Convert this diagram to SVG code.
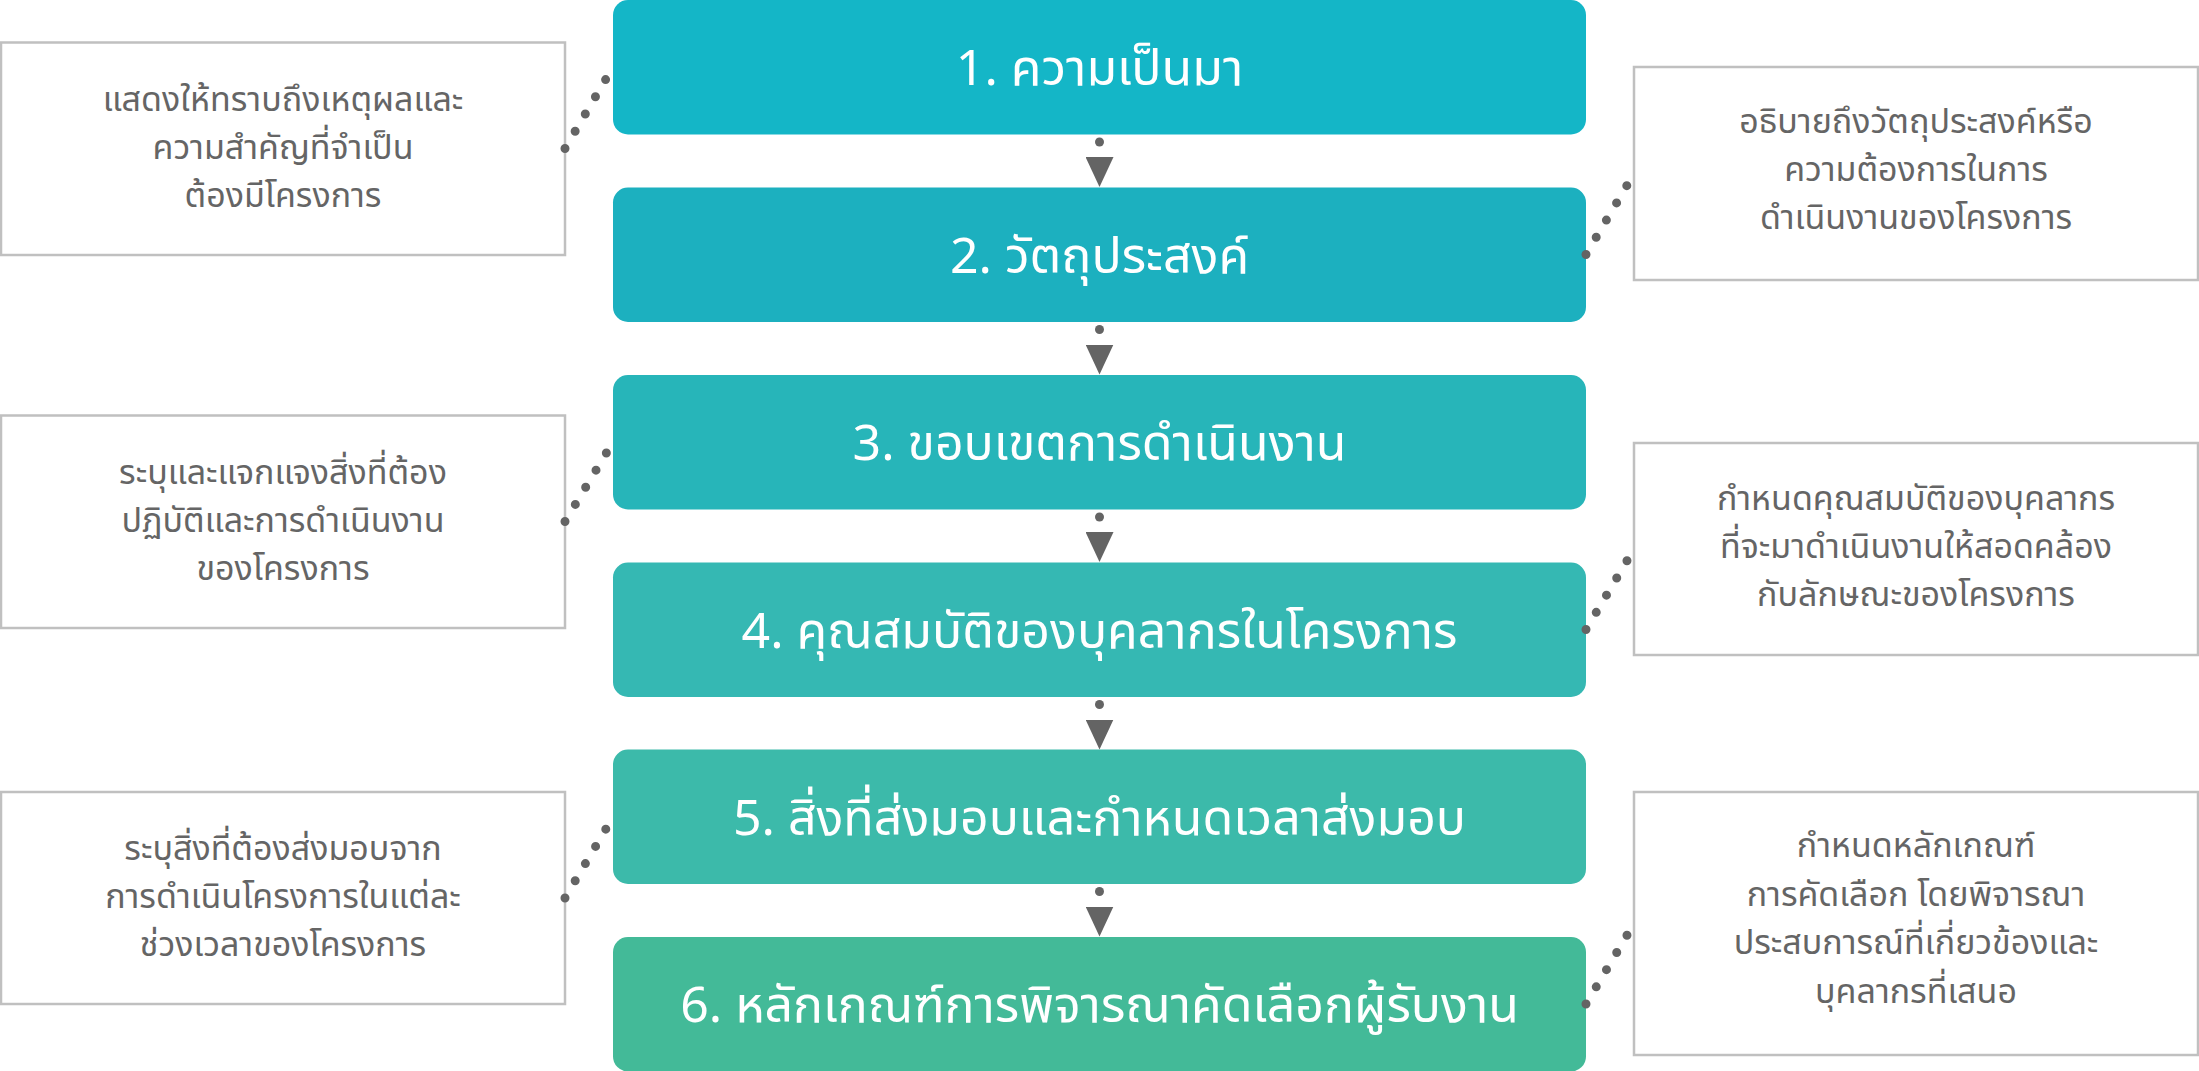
<svg xmlns="http://www.w3.org/2000/svg" width="2199" height="1071" viewBox="0 0 2199 1071">
<defs>
<style>
.node{stroke:none}
.ntext{font-family:'Noto Sans Thai','Noto Sans Thai Looped','Noto Sans',sans-serif;font-size:50px;fill:#ffffff;text-anchor:middle}
.note{fill:#ffffff;stroke:#c0c0c0;stroke-width:2.5}
.ttext{font-family:'Noto Sans Thai','Noto Sans Thai Looped','Noto Sans',sans-serif;font-size:34px;fill:#656565;text-anchor:middle}
.dots{fill:none;stroke:#646464;stroke-width:9;stroke-linecap:round;stroke-dasharray:0 20}
.flow{fill:none;stroke:#646464;stroke-width:9;stroke-linecap:round;stroke-dasharray:0 100;marker-end:url(#tri)}
</style>
<marker id="tri" viewBox="0 0 30 28" refX="0" refY="14" markerWidth="30" markerHeight="28" markerUnits="userSpaceOnUse" orient="auto">
<path d="M0,0 L30,14 L0,28 Z" fill="#646464"/>
</marker>
</defs>

<g id="node1"><rect class="node" x="613" y="0" width="973" height="134.5" rx="15" fill="#14B6C7"/><text class="ntext" x="1099.5" y="85">1. ความเป็นมา</text></g>
<g id="node2"><rect class="node" x="613" y="187.5" width="973" height="134.5" rx="15" fill="#1CB0BF"/><text class="ntext" x="1099.5" y="272.5">2. วัตถุประสงค์</text></g>
<g id="node3"><rect class="node" x="613" y="375" width="973" height="134.5" rx="15" fill="#27B5B9"/><text class="ntext" x="1099.5" y="460">3. ขอบเขตการดำเนินงาน</text></g>
<g id="node4"><rect class="node" x="613" y="562.5" width="973" height="134.5" rx="15" fill="#35B8B3"/><text class="ntext" x="1099.5" y="647.5">4. คุณสมบัติของบุคลากรในโครงการ</text></g>
<g id="node5"><rect class="node" x="613" y="749.5" width="973" height="134.5" rx="15" fill="#3CBAAA"/><text class="ntext" x="1099.5" y="834.5">5. สิ่งที่ส่งมอบและกำหนดเวลาส่งมอบ</text></g>
<g id="node6"><rect class="node" x="613" y="937" width="973" height="134.5" rx="15" fill="#43BA98"/><text class="ntext" x="1099.5" y="1022">6. หลักเกณฑ์การพิจารณาคัดเลือกผู้รับงาน</text></g>

<g id="note-left-1"><rect class="note" x="1" y="42.5" width="564" height="212.5"/>
<text class="ttext" x="283" y="111"><tspan x="283">แสดงให้ทราบถึงเหตุผลและ</tspan><tspan x="283" dy="48">ความสำคัญที่จำเป็น</tspan><tspan x="283" dy="48">ต้องมีโครงการ</tspan></text></g>
<g id="note-left-2"><rect class="note" x="1" y="415.5" width="564" height="212.5"/>
<text class="ttext" x="283" y="484"><tspan x="283">ระบุและแจกแจงสิ่งที่ต้อง</tspan><tspan x="283" dy="48">ปฏิบัติและการดำเนินงาน</tspan><tspan x="283" dy="48">ของโครงการ</tspan></text></g>
<g id="note-left-3"><rect class="note" x="1" y="792" width="564" height="212"/>
<text class="ttext" x="283" y="860"><tspan x="283">ระบุสิ่งที่ต้องส่งมอบจาก</tspan><tspan x="283" dy="48">การดำเนินโครงการในแต่ละ</tspan><tspan x="283" dy="48">ช่วงเวลาของโครงการ</tspan></text></g>

<g id="note-right-1"><rect class="note" x="1634" y="67" width="564" height="213"/>
<text class="ttext" x="1916" y="133"><tspan x="1916">อธิบายถึงวัตถุประสงค์หรือ</tspan><tspan x="1916" dy="48">ความต้องการในการ</tspan><tspan x="1916" dy="48">ดำเนินงานของโครงการ</tspan></text></g>
<g id="note-right-2"><rect class="note" x="1634" y="443" width="564" height="212"/>
<text class="ttext" x="1916" y="510"><tspan x="1916">กำหนดคุณสมบัติของบุคลากร</tspan><tspan x="1916" dy="48">ที่จะมาดำเนินงานให้สอดคล้อง</tspan><tspan x="1916" dy="48">กับลักษณะของโครงการ</tspan></text></g>
<g id="note-right-3"><rect class="note" x="1634" y="792" width="564" height="263"/>
<text class="ttext" x="1916" y="857"><tspan x="1916">กำหนดหลักเกณฑ์</tspan><tspan x="1916" dy="48.5">การคัดเลือก โดยพิจารณา</tspan><tspan x="1916" dy="48.5">ประสบการณ์ที่เกี่ยวข้องและ</tspan><tspan x="1916" dy="48.5">บุคลากรที่เสนอ</tspan></text></g>

<g id="connectors">
<path class="flow" d="M1099.5,142 L1099.5,157"/>
<path class="flow" d="M1099.5,329.5 L1099.5,344.5"/>
<path class="flow" d="M1099.5,517 L1099.5,532"/>
<path class="flow" d="M1099.5,704.5 L1099.5,719.5"/>
<path class="flow" d="M1099.5,891.5 L1099.5,906.5"/>
<path class="dots" d="M565,148.5 L613,67"/>
<path class="dots" d="M565,521.5 L613,442"/>
<path class="dots" d="M565,898 L613,817"/>
<path class="dots" d="M1586,254.5 L1634,173.5"/>
<path class="dots" d="M1586,629.5 L1634,549"/>
<path class="dots" d="M1586,1004 L1634,923.5"/>
</g>
</svg>
